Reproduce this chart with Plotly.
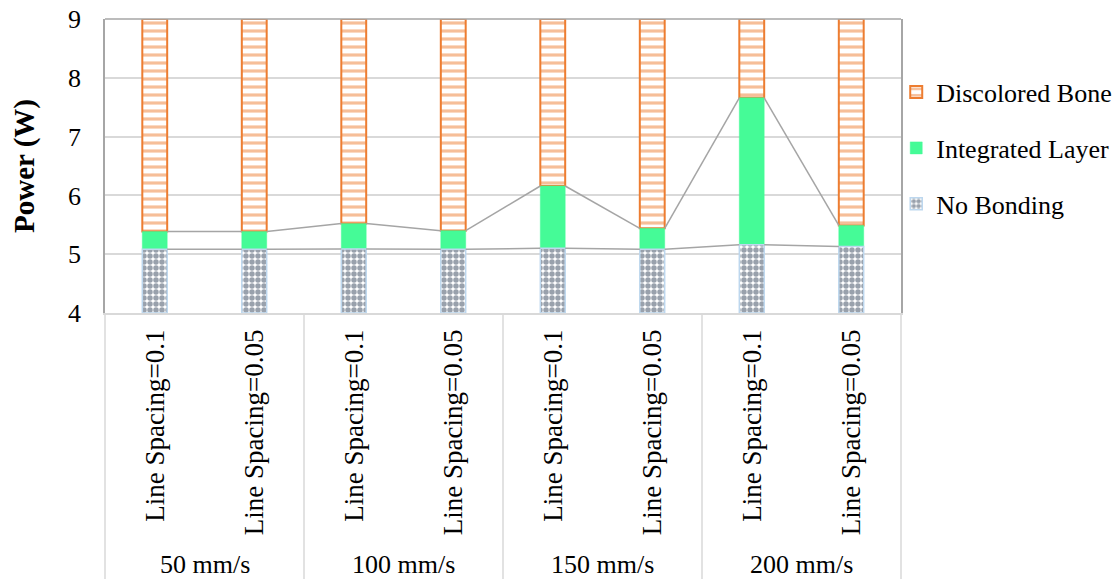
import plotly.graph_objects as go

categories = ["Line Spacing=0.1", "Line Spacing=0.05"] * 4
groups = ["50 mm/s", "100 mm/s", "150 mm/s", "200 mm/s"]
no_bonding = [5.085, 5.085, 5.09, 5.085, 5.10, 5.085, 5.16, 5.13]
integrated_top = [5.385, 5.385, 5.52, 5.40, 6.16, 5.44, 7.66, 5.49]
discolored_top = [9.0] * 8
y_min = 4

x_pos = [i + 0.5 for i in range(len(categories))]
bar_w = 0.25

nb_h = [v - y_min for v in no_bonding]
il_h = [t - b for t, b in zip(integrated_top, no_bonding)]
db_h = [t - b for t, b in zip(discolored_top, integrated_top)]

FONT = "Liberation Serif, Times New Roman, serif"

fig = go.Figure()
fig.add_trace(go.Bar(
    x=x_pos, y=db_h, base=integrated_top, width=bar_w, name="Discolored Bone",
    legendgroup="db",
    marker=dict(color="white", line=dict(color="#ed7d31", width=2),
                pattern=dict(shape="-", fgcolor="#ed7d31", bgcolor="white",
                             size=8, solidity=0.4)),
))
fig.add_trace(go.Bar(
    x=x_pos, y=il_h, base=no_bonding, width=bar_w, name="Integrated Layer",
    legendgroup="il",
    marker=dict(color="#45fb97", line=dict(color="#45fb97", width=0.5)),
))
fig.add_trace(go.Bar(
    x=x_pos, y=nb_h, base=y_min, width=bar_w, name="No Bonding",
    legendgroup="nb",
    marker=dict(color="white", line=dict(color="#bdd7ee", width=1.5),
                pattern=dict(shape=".", fgcolor="#34435a", bgcolor="white",
                             size=6, solidity=0.65)),
))

# Series lines connecting bar tops (Excel style)
for tops in (no_bonding, integrated_top):
    for i in range(len(x_pos) - 1):
        fig.add_trace(go.Scatter(
            x=[x_pos[i] + bar_w / 2, x_pos[i + 1] - bar_w / 2],
            y=[tops[i], tops[i + 1]],
            mode="lines", line=dict(color="#a5a5a5", width=1.5),
            showlegend=False, hoverinfo="skip",
        ))

shapes = []
n_groups = len(groups)
for k in range(n_groups + 1):
    shapes.append(dict(type="line", xref="paper", yref="paper",
                       x0=k / n_groups, x1=k / n_groups, y0=0, y1=-0.91,
                       line=dict(color="#d9d9d9", width=1.5)))
shapes.append(dict(type="line", xref="paper", yref="paper", x0=0, x1=1,
                   y0=1, y1=1, line=dict(color="#a6a6a6", width=1.5)))

annotations = []
for k, g in enumerate(groups):
    annotations.append(dict(text=g, xref="paper", yref="paper",
                            x=(k + 0.5) / n_groups, y=-0.856,
                            showarrow=False, xanchor="center", yanchor="middle",
                            font=dict(family=FONT, size=26, color="black")))

fig.update_layout(
    width=1119, height=579,
    margin=dict(l=104.5, r=218.3, t=19.3, b=266, autoexpand=False),
    paper_bgcolor="white", plot_bgcolor="white",
    barmode="overlay",
    showlegend=True,
    legend=dict(x=0.994, xanchor="left", y=0.831, yanchor="top",
                traceorder="grouped", tracegroupgap=19,
                itemwidth=30,
                font=dict(family=FONT, size=26, color="black"),
                bgcolor="rgba(0,0,0,0)"),
    shapes=shapes,
    annotations=annotations,
    font=dict(family=FONT, size=26, color="black"),
)
fig.update_xaxes(range=[0, len(categories)], tickmode="array",
                 tickvals=x_pos, ticktext=categories, tickangle=-90,
                 showgrid=False, zeroline=False, showline=True,
                 linecolor="#d9d9d9", linewidth=1.5, ticks="",
                 ticklabelstandoff=4, automargin=False,
                 tickfont=dict(family=FONT, size=27, color="black"))
fig.update_yaxes(range=[4, 9], dtick=1, showgrid=True, gridcolor="#d9d9d9",
                 gridwidth=1.5, zeroline=False, showline=True, mirror=True,
                 linecolor="#a6a6a6", linewidth=1.5, ticks="",
                 ticklabelstandoff=17, automargin=False,
                 tickfont=dict(family=FONT, size=26, color="black"),
                 title=dict(text="<b>Power (W)</b>", standoff=25,
                            font=dict(family=FONT, size=29, color="black")))

fig.write_html("out.html")
